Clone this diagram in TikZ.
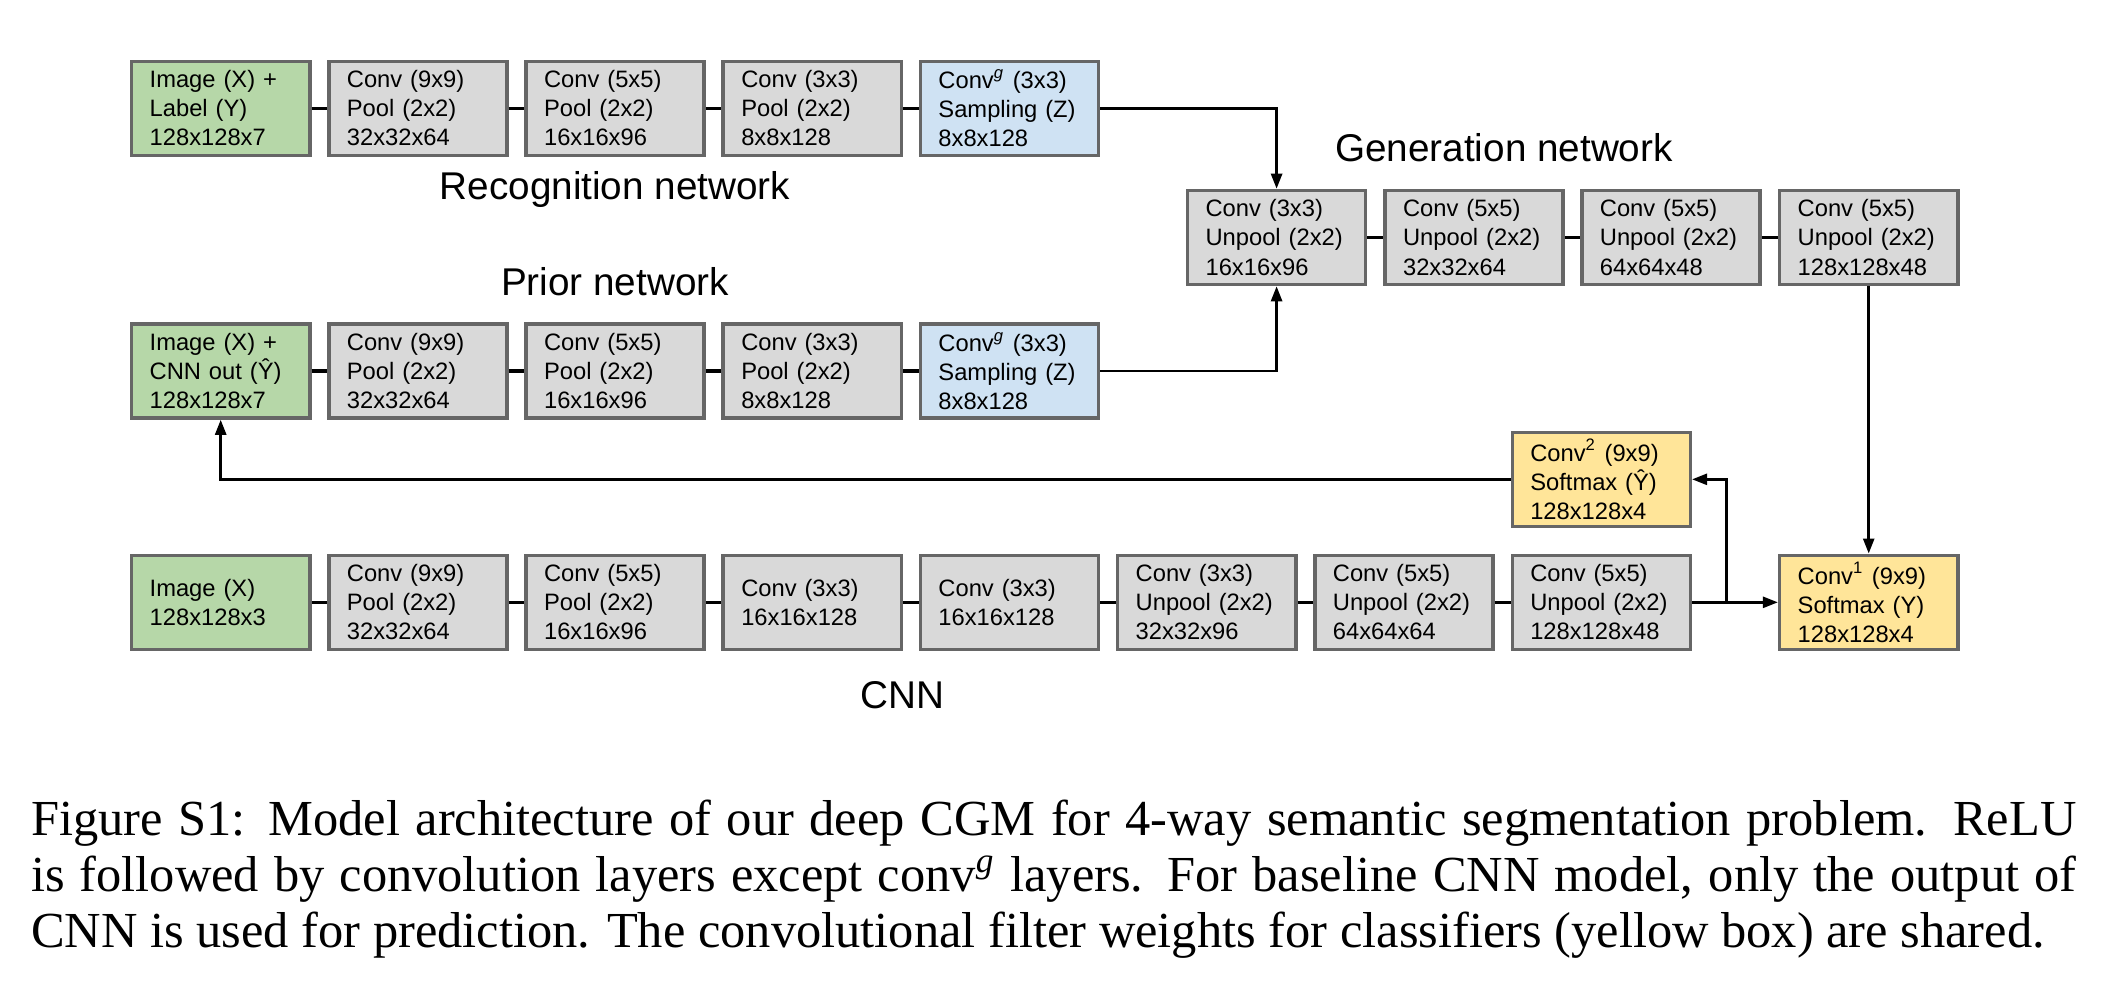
\documentclass[tikz,border=0pt]{standalone}
\usepackage{fontspec}
\setmainfont{Liberation Serif}
\setsansfont{Liberation Sans}
\usetikzlibrary{arrows.meta}
\definecolor{inputgreen}{HTML}{B6D7A8}
\definecolor{layergray}{HTML}{D9D9D9}
\definecolor{sampleblue}{HTML}{CFE2F3}
\definecolor{classyellow}{HTML}{FFE599}
\definecolor{boxedge}{HTML}{666666}
\begin{document}
\begin{tikzpicture}[x=0.01cm, y=-0.01cm,
                    layer/.style = {shape = rectangle,
                                    draw = boxedge,
                                    fill = layergray,
                                    line width = 1pt,
                                    minimum width = 1.78cm,
                                    minimum height = 0.94cm,
                                    inner xsep = 0.18cm,
                                    inner ysep = 0pt,
                                    text width = 1.42cm,
                                    align = left,
                                    font = \fontsize{6.75}{8.25}\selectfont\sffamily},
                    netlabel/.style = {anchor = base,
                                       inner sep = 0pt,
                                       font = \fontsize{11}{13}\selectfont\sffamily},
                    link/.style = {line width = 0.9pt},
                    flow/.style = {line width = 0.75pt,
                                   -{Triangle[length=0.15cm, width=0.11cm]}}]
		\useasboundingbox (0,0) rectangle (2120,996);
		\node[layer, fill=inputgreen] (rec1) at (220.7,108.3) {Image (X) +\\Label (Y)\\128x128x7};
		\node[layer] (rec2) at (417.9,108.3) {Conv (9x9)\\Pool (2x2)\\32x32x64};
		\node[layer] (rec3) at (615.1,108.3) {Conv (5x5)\\Pool (2x2)\\16x16x96};
		\node[layer] (rec4) at (812.3,108.3) {Conv (3x3)\\Pool (2x2)\\8x8x128};
		\node[layer, fill=sampleblue] (rec5) at (1009.5,108.3) {Conv\textsuperscript{\textit{g}} (3x3)\\Sampling (Z)\\8x8x128};
		\node[layer, fill=inputgreen] (pri1) at (220.7,371) {Image (X) +\\CNN out (Ŷ)\\128x128x7};
		\node[layer] (pri2) at (417.9,371) {Conv (9x9)\\Pool (2x2)\\32x32x64};
		\node[layer] (pri3) at (615.1,371) {Conv (5x5)\\Pool (2x2)\\16x16x96};
		\node[layer] (pri4) at (812.3,371) {Conv (3x3)\\Pool (2x2)\\8x8x128};
		\node[layer, fill=sampleblue] (pri5) at (1009.5,371) {Conv\textsuperscript{\textit{g}} (3x3)\\Sampling (Z)\\8x8x128};
		\node[layer] (gen1) at (1276.6,237.5) {Conv (3x3)\\Unpool (2x2)\\16x16x96};
		\node[layer] (gen2) at (1474.1,237.5) {Conv (5x5)\\Unpool (2x2)\\32x32x64};
		\node[layer] (gen3) at (1670.9,237.5) {Conv (5x5)\\Unpool (2x2)\\64x64x48};
		\node[layer] (gen4) at (1868.7,237.5) {Conv (5x5)\\Unpool (2x2)\\128x128x48};
		\node[layer, fill=inputgreen] (cnn1) at (220.7,602.3) {Image (X)\\128x128x3};
		\node[layer] (cnn2) at (417.9,602.3) {Conv (9x9)\\Pool (2x2)\\32x32x64};
		\node[layer] (cnn3) at (615.1,602.3) {Conv (5x5)\\Pool (2x2)\\16x16x96};
		\node[layer] (cnn4) at (812.3,602.3) {Conv (3x3)\\16x16x128};
		\node[layer] (cnn5) at (1009.5,602.3) {Conv (3x3)\\16x16x128};
		\node[layer] (cnn6) at (1206.7,602.3) {Conv (3x3)\\Unpool (2x2)\\32x32x96};
		\node[layer] (cnn7) at (1403.9,602.3) {Conv (5x5)\\Unpool (2x2)\\64x64x64};
		\node[layer] (cnn8) at (1601.3,602.3) {Conv (5x5)\\Unpool (2x2)\\128x128x48};
		\node[layer, fill=classyellow] (cls2) at (1601.3,479.3) {Conv\textsuperscript{2} (9x9)\\Softmax (Ŷ)\\128x128x4};
		\node[layer, fill=classyellow] (cls1) at (1868.7,602.3) {Conv\textsuperscript{1} (9x9)\\Softmax (Y)\\128x128x4};
		\node[netlabel] (rectitle) at (615,199.5) {Recognition network};
		\node[netlabel] (prititle) at (615,295) {Prior network};
		\node[netlabel] (gentitle) at (1504,161.5) {Generation network};
		\node[netlabel] (cnntitle) at (902.6,708) {CNN};
		\path (rec1) edge[link] (rec2);
		\path (rec2) edge[link] (rec3);
		\path (rec3) edge[link] (rec4);
		\path (rec4) edge[link] (rec5);
		\path (pri1) edge[link] (pri2);
		\path (pri2) edge[link] (pri3);
		\path (pri3) edge[link] (pri4);
		\path (pri4) edge[link] (pri5);
		\path (gen1) edge[link] (gen2);
		\path (gen2) edge[link] (gen3);
		\path (gen3) edge[link] (gen4);
		\path (cnn1) edge[link] (cnn2);
		\path (cnn2) edge[link] (cnn3);
		\path (cnn3) edge[link] (cnn4);
		\path (cnn4) edge[link] (cnn5);
		\path (cnn5) edge[link] (cnn6);
		\path (cnn6) edge[link] (cnn7);
		\path (cnn7) edge[link] (cnn8);
		\coordinate (split) at (1726.5,602.3);
		\draw[flow] (rec5.east) -| (gen1.north);
		\draw[flow] (pri5.east) -| (gen1.south);
		\draw[flow] (gen4.south) -- (cls1.north);
		\draw[flow] (cnn8.east) -- (cls1.west);
		\draw[flow] (split) |- (cls2.east);
		\draw[flow] (cls2.west) -| (pri1.south);
		\node[anchor=north west, inner sep=0pt, text width=20.44cm, align=justify,
		      font=\fontsize{14.35}{15.95}\selectfont] (caption) at (30.4,799)
		     {Figure S1: Model architecture of our deep CGM for 4-way semantic segmentation problem. ReLU\linebreak is followed by convolution layers except conv\textsuperscript{\textit{g}} layers. For baseline CNN model, only the output of\linebreak CNN is used for prediction. The convolutional filter weights for classifiers (yellow box) are shared.};
	\end{tikzpicture}
\end{document}
